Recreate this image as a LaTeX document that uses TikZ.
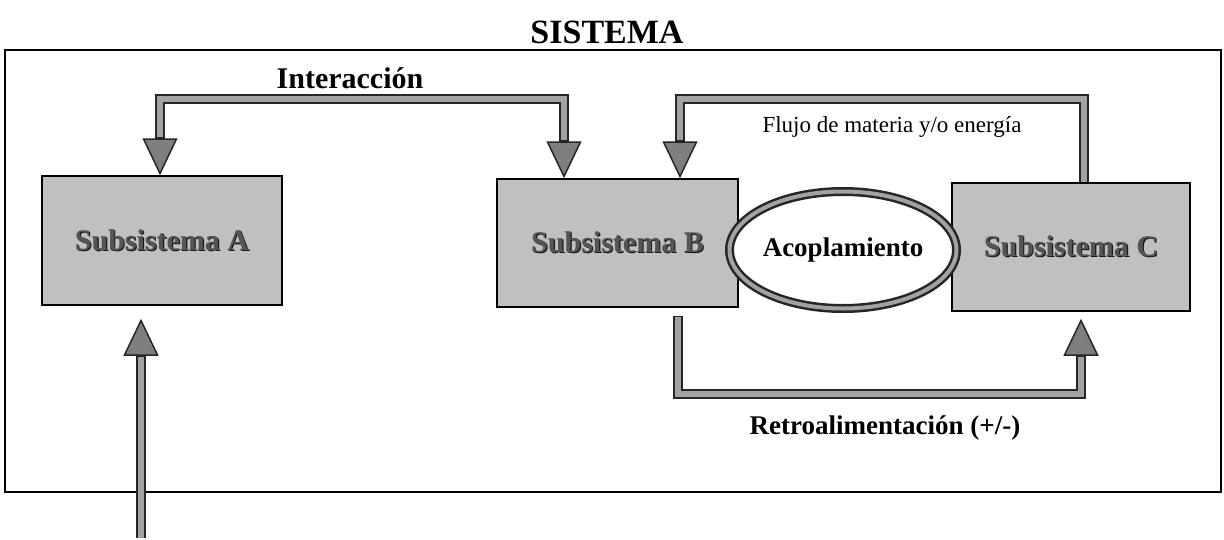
\documentclass[tikz,border=0pt]{standalone}
\usepackage{fontspec}
\setmainfont{Liberation Serif}
\usetikzlibrary{arrows.meta,shapes.geometric}
\definecolor{shaftdark}{HTML}{262626}
\definecolor{shaftfill}{HTML}{A2A2A2}
\definecolor{headfill}{HTML}{7E7E7E}
\definecolor{boxfill}{HTML}{C0C0C0}
\definecolor{boxtext}{HTML}{555555}
\newcommand{\shadowtxt}[1]{\rlap{\kern1.2pt\raisebox{-1.2pt}{\textcolor{black!90}{#1}}}\textcolor{boxtext}{#1}}
\begin{document}
\begin{tikzpicture}[x=1pt,y=-1pt,
  subbox/.style={draw=black, line width=1.5pt, fill=boxfill, inner sep=0pt,
    font=\fontsize{30}{34}\selectfont\bfseries},
  shaftout/.style={draw=shaftdark, line width=10pt, line join=miter},
  shaftin/.style={draw=shaftfill, line width=6pt, line join=miter},
  bighead/.tip={Triangle[width=35pt,length=37pt,fill=headfill,line width=1.5pt]},
  boldlab/.style={font=\fontsize{30}{34}\selectfont\bfseries, inner sep=0pt},
]
\useasboundingbox (0,0) rectangle (1224,539);
% frame and title
\node[draw=black, line width=2.5pt, minimum width=1216pt, minimum height=442pt, inner sep=0pt] (frame) at (613,271) {};
\node[font=\fontsize{34}{38}\selectfont\bfseries, inner sep=0pt] (title) at (607,32) {SISTEMA};
% subsystems
\node[subbox, minimum width=240pt, minimum height=129pt] (A) at (162,240.5) {\shadowtxt{Subsistema A}};
\node[subbox, minimum width=241pt, minimum height=128pt] (B) at (617.5,243) {\shadowtxt{Subsistema B}};
\node[subbox, minimum width=238pt, minimum height=128pt] (C) at (1071,247) {\shadowtxt{Subsistema C}};
% coupling
\node[ellipse, draw=shaftdark, double=shaftfill, double distance=4pt, line width=2.5pt,
  fill=white, minimum width=227pt, minimum height=117pt, inner sep=0pt,
  font=\fontsize{27}{30}\selectfont\bfseries] (E) at (843,250) {Acoplamiento};
% routing coordinates
\coordinate (i1) at (160,99);
\coordinate (i2) at (564,99);
\coordinate (f1) at (1084,99);
\coordinate (f2) at (680,99);
\coordinate (r1) at (678,394);
\coordinate (r2) at (1081,394);
\coordinate (ext) at (141,538);
% interaction
\draw[shaftout, bighead-bighead] (A.north -| i1) -- (i1) -- (i2) -- (B.north -| i2);
\draw[shaftin, shorten <=38pt, shorten >=38pt] (A.north -| i1) -- (i1) -- (i2) -- (B.north -| i2);
% flow
\draw[shaftout, -bighead] (C.north -| f1) -- (f1) -- (f2) -- (B.north -| f2);
\draw[shaftin, shorten >=38pt] (C.north -| f1) -- (f1) -- (f2) -- (B.north -| f2);
% feedback
\draw[shaftout, -bighead] ([yshift=-8pt]B.south -| r1) -- (r1) -- (r2) -- ([yshift=-7pt]C.south -| r2);
\draw[shaftin, shorten <=1.5pt, shorten >=38pt] ([yshift=-8pt]B.south -| r1) -- (r1) -- (r2) -- ([yshift=-7pt]C.south -| r2);
% external input
\draw[shaftout, -bighead] (ext) -- ([yshift=-13pt]A.south -| ext);
\draw[shaftin, shorten >=38pt] (ext) -- ([yshift=-13pt]A.south -| ext);
% labels
\node[boldlab] (inter) at (350,78) {Interacción};
\node[font=\fontsize{23}{26}\selectfont, inner sep=0pt] (flujo) at (892,127) {Flujo de materia y/o energía};
\node[font=\fontsize{27}{30}\selectfont\bfseries, inner sep=0pt] (retro) at (885,428) {Retroalimentación (+/-)};
\end{tikzpicture}
\end{document}
